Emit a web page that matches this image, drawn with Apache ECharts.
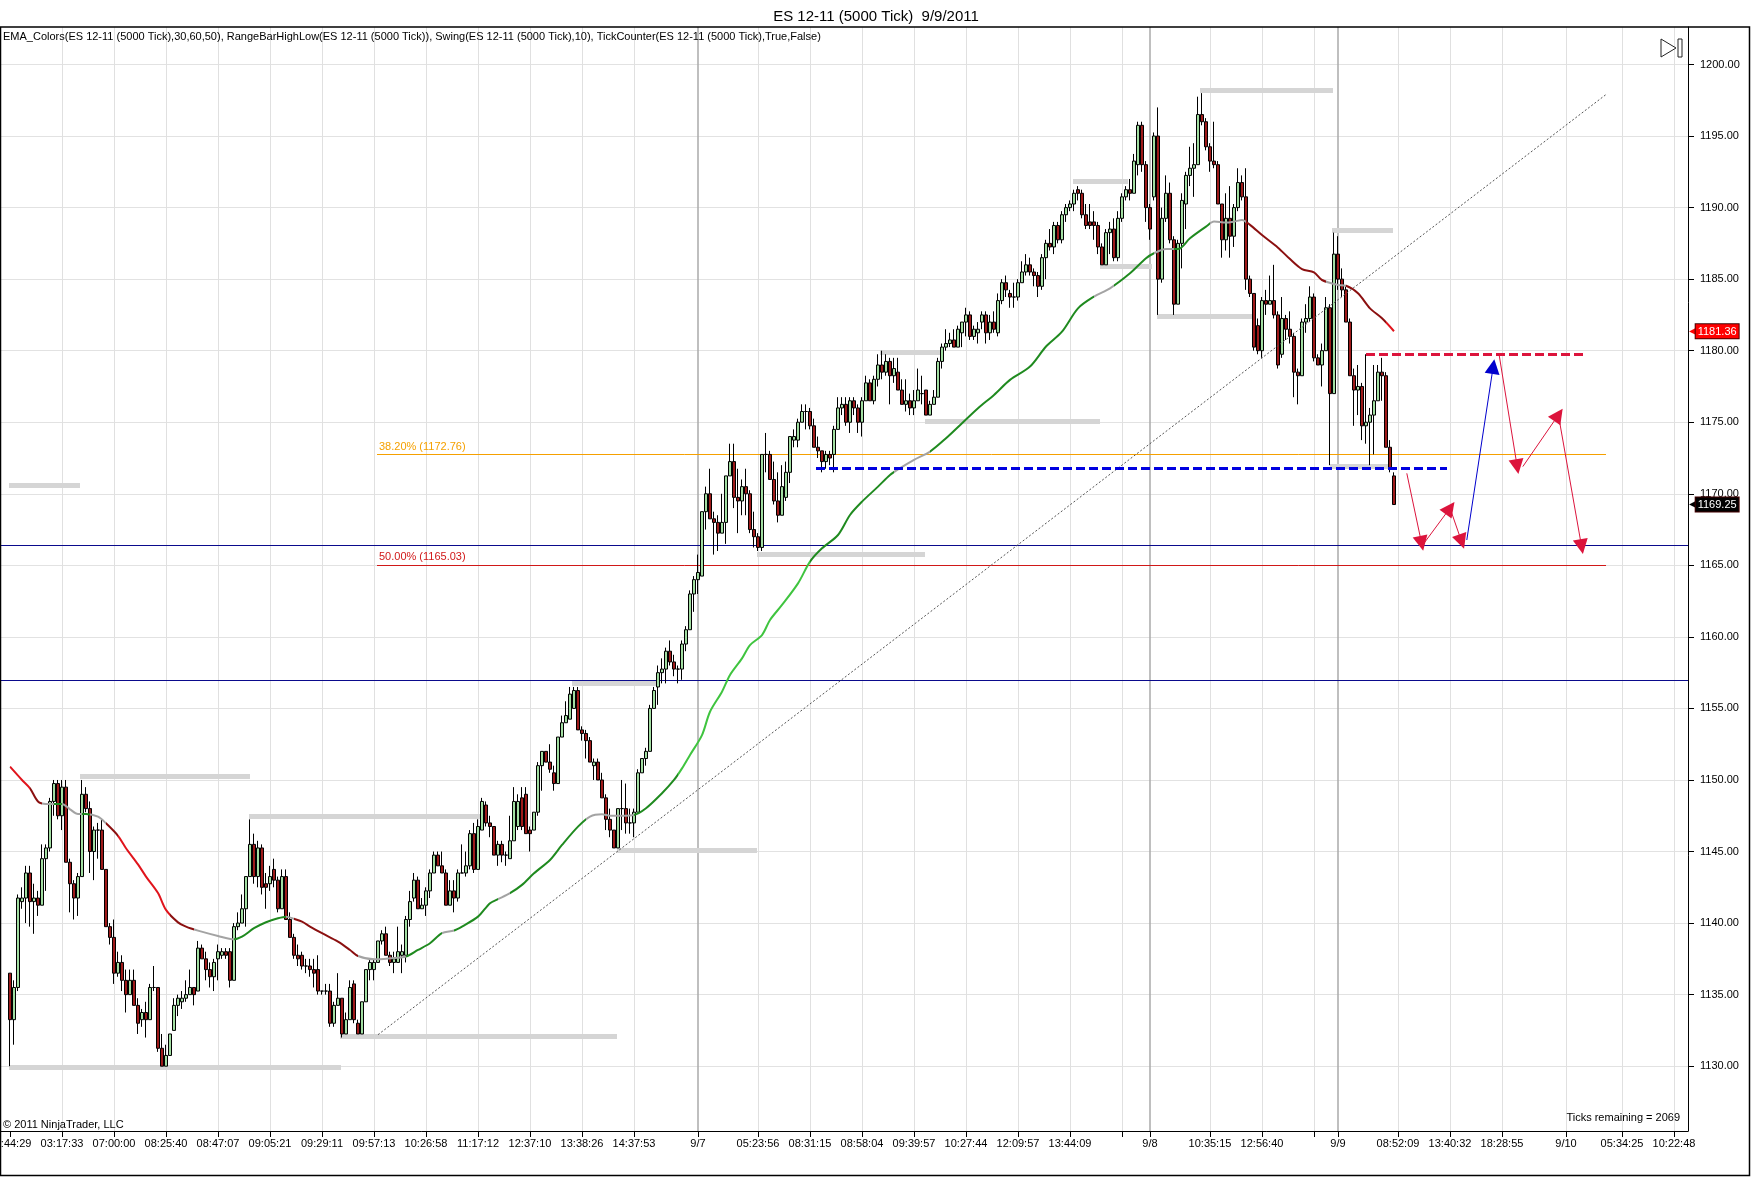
<!DOCTYPE html>
<html>
<head>
<meta charset="utf-8">
<title>ES 12-11 (5000 Tick) 9/9/2011</title>
<script src="https://cdn.jsdelivr.net/npm/echarts@6/dist/echarts.min.js"></script>
<style>
  html, body { margin: 0; padding: 0; background: #fff; }
  #chart { width: 1752px; height: 1177px; }
</style>
</head>
<body>
<div id="chart"></div>
<script>
var FONT = '"Liberation Sans", Arial, sans-serif';

// 5000 tick bars, numbered 1..347 from the left edge of the chart
var openPx = [
  1136.5, 1133.25, 1135.5, 1141.5, 1141.75, 1143.5, 1141.5, 1141.75, 1141.25, 1144.5,
  1145.25, 1148.5, 1149.75, 1147.5, 1149.5, 1144.25, 1142.75, 1141.75, 1143.25, 1149.0,
  1148.0, 1145.0, 1146.5, 1146.5, 1143.75, 1139.75, 1139.0, 1136.5, 1137.25, 1136.0,
  1135.0, 1136.0, 1134.25, 1133.25, 1133.75, 1133.25, 1135.5, 1135.5, 1131.25, 1130.0,
  1130.75, 1132.5, 1134.25, 1134.5, 1134.75, 1135.0, 1135.5, 1135.25, 1138.25, 1137.5,
  1136.75, 1136.25, 1137.5, 1137.75, 1138.0, 1138.0, 1136.0, 1139.75, 1140.0, 1141.0,
  1143.25, 1145.5, 1143.25, 1145.25, 1142.75, 1142.75, 1143.75, 1143.0, 1141.0, 1143.25,
  1140.25, 1139.0, 1137.75, 1137.75, 1137.0, 1137.0, 1136.75, 1136.75, 1135.25, 1135.25,
  1135.25, 1133.0, 1134.25, 1134.75, 1132.25, 1133.25, 1135.75, 1133.0, 1132.25, 1134.5,
  1136.75, 1136.75, 1137.25, 1138.75, 1139.25, 1137.75, 1137.25, 1137.25, 1137.75, 1137.75,
  1140.25, 1141.75, 1143.0, 1141.0, 1141.25, 1142.25, 1143.5, 1144.75, 1144.0, 1143.5,
  1141.25, 1142.25, 1141.75, 1143.5, 1143.5, 1144.0, 1146.25, 1143.75, 1146.5, 1148.25,
  1147.0, 1146.75, 1144.75, 1145.5, 1144.75, 1144.5, 1145.75, 1146.75, 1148.75, 1149.0,
  1146.5, 1146.5, 1147.75, 1151.0, 1152.0, 1151.25, 1150.5, 1149.75, 1153.0, 1154.0,
  1154.25, 1155.0, 1156.25, 1153.5, 1153.25, 1152.75, 1151.0, 1151.25, 1150.0, 1148.75,
  1147.25, 1146.5, 1145.25, 1148.0, 1148.0, 1147.0, 1147.0, 1147.75, 1150.5, 1151.5,
  1152.0, 1155.0, 1156.5, 1157.5, 1157.75, 1159.0, 1158.25, 1157.75, 1157.75, 1159.5,
  1160.5, 1163.0, 1164.0, 1164.25, 1168.75, 1170.0, 1168.25, 1168.0, 1167.25, 1168.0,
  1171.25, 1172.25, 1169.75, 1169.5, 1170.5, 1170.0, 1167.5, 1167.0, 1166.25, 1172.75,
  1172.75, 1171.0, 1169.5, 1168.5, 1169.75, 1171.5, 1173.75, 1173.75, 1175.0, 1175.75,
  1175.75, 1174.75, 1173.25, 1173.0, 1172.25, 1172.75, 1172.75, 1174.5, 1176.0, 1176.25,
  1175.0, 1176.5, 1176.0, 1175.0, 1176.5, 1177.75, 1176.5, 1178.0, 1179.0, 1178.5,
  1179.25, 1178.25, 1178.5, 1177.25, 1176.25, 1176.5, 1176.0, 1176.5, 1177.0, 1177.25,
  1175.5, 1176.25, 1176.75, 1179.25, 1180.25, 1180.5, 1180.75, 1180.25, 1181.25, 1182.0,
  1182.5, 1181.0, 1181.25, 1182.0, 1182.5, 1181.25, 1182.0, 1181.25, 1183.5, 1184.75,
  1184.0, 1183.75, 1183.75, 1184.75, 1185.5, 1186.0, 1185.5, 1185.25, 1184.5, 1186.5,
  1187.5, 1187.25, 1188.75, 1187.75, 1189.5, 1190.0, 1190.25, 1191.25, 1191.0, 1189.5,
  1189.0, 1189.0, 1188.75, 1187.25, 1186.0, 1188.25, 1188.5, 1186.5, 1189.25, 1190.75,
  1191.25, 1191.0, 1193.0, 1195.75, 1193.0, 1190.0, 1190.75, 1195.0, 1185.0, 1189.25,
  1191.0, 1187.75, 1183.25, 1187.5, 1190.25, 1192.25, 1192.75, 1193.0, 1196.5, 1196.0,
  1194.25, 1193.25, 1193.0, 1190.25, 1187.75, 1189.25, 1188.0, 1190.0, 1191.75, 1190.75,
  1185.0, 1184.0, 1181.75, 1180.0, 1183.5, 1183.25, 1183.5, 1182.5, 1179.75, 1182.25,
  1181.5, 1181.0, 1178.5, 1178.25, 1182.0, 1182.25, 1183.75, 1179.5, 1179.0, 1180.0,
  1183.0, 1177.0, 1186.75, 1185.0, 1184.25, 1182.0, 1178.25, 1177.25, 1177.5, 1174.75,
  1175.0, 1175.5, 1176.5, 1178.5, 1178.25, 1173.25, 1171.25
];
var closePx = [
  1133.25, 1135.5, 1141.75, 1141.75, 1143.5, 1141.5, 1141.75, 1141.25, 1144.5, 1145.25,
  1148.5, 1149.75, 1147.5, 1149.5, 1144.25, 1142.75, 1141.75, 1143.25, 1149.0, 1148.0,
  1145.0, 1146.5, 1146.5, 1143.75, 1139.75, 1139.0, 1136.5, 1137.25, 1136.0, 1135.0,
  1136.0, 1134.25, 1133.0, 1133.75, 1133.25, 1135.5, 1135.5, 1131.25, 1130.0, 1130.75,
  1132.25, 1134.25, 1134.75, 1134.75, 1135.0, 1135.5, 1135.0, 1138.25, 1137.5, 1136.75,
  1136.25, 1137.25, 1138.0, 1138.0, 1137.75, 1136.0, 1139.75, 1140.0, 1141.0, 1143.25,
  1145.5, 1143.25, 1145.25, 1142.5, 1142.5, 1143.25, 1143.0, 1141.0, 1143.25, 1140.25,
  1139.0, 1137.75, 1137.5, 1137.0, 1137.0, 1136.75, 1136.5, 1135.25, 1135.25, 1135.25,
  1133.0, 1134.25, 1134.75, 1132.25, 1133.25, 1135.5, 1133.25, 1132.25, 1134.5, 1136.75,
  1137.25, 1137.25, 1138.75, 1139.25, 1137.75, 1137.25, 1137.5, 1138.0, 1138.0, 1140.25,
  1141.5, 1143.0, 1141.0, 1141.25, 1142.25, 1143.5, 1144.75, 1144.0, 1143.5, 1141.25,
  1142.25, 1141.75, 1143.5, 1143.5, 1144.0, 1146.25, 1143.75, 1146.75, 1148.5, 1147.0,
  1146.75, 1144.75, 1145.5, 1144.75, 1144.75, 1145.75, 1148.5, 1148.5, 1146.75, 1146.25,
  1146.25, 1147.75, 1151.0, 1152.0, 1151.25, 1150.75, 1149.75, 1153.0, 1154.0, 1154.5,
  1156.0, 1156.25, 1153.5, 1153.25, 1152.75, 1151.25, 1151.25, 1150.0, 1148.75, 1147.25,
  1146.5, 1145.25, 1148.0, 1148.0, 1147.0, 1147.0, 1147.75, 1150.5, 1151.5, 1152.0,
  1155.0, 1156.25, 1157.5, 1157.75, 1159.0, 1158.25, 1157.75, 1157.75, 1159.5, 1160.5,
  1163.0, 1164.0, 1164.5, 1168.75, 1170.0, 1168.25, 1168.0, 1167.25, 1168.0, 1171.25,
  1172.25, 1169.75, 1169.5, 1170.5, 1170.0, 1167.5, 1167.0, 1166.25, 1172.75, 1172.75,
  1171.0, 1169.5, 1168.5, 1170.5, 1171.5, 1174.0, 1174.0, 1175.0, 1175.75, 1175.75,
  1174.75, 1173.25, 1173.0, 1172.25, 1172.75, 1172.5, 1174.5, 1176.0, 1176.25, 1175.0,
  1176.5, 1176.0, 1175.0, 1176.5, 1177.75, 1176.5, 1178.0, 1179.0, 1178.5, 1179.25,
  1178.25, 1178.75, 1177.25, 1176.25, 1176.5, 1176.0, 1176.5, 1177.25, 1177.0, 1175.5,
  1176.25, 1176.75, 1179.25, 1180.25, 1180.5, 1180.75, 1180.25, 1181.5, 1182.0, 1182.5,
  1181.0, 1181.5, 1181.5, 1182.5, 1181.25, 1182.0, 1181.5, 1183.5, 1184.75, 1184.25,
  1183.75, 1183.75, 1184.75, 1185.5, 1186.0, 1185.5, 1185.25, 1184.5, 1186.5, 1187.5,
  1187.25, 1188.75, 1187.75, 1189.5, 1190.0, 1190.25, 1191.0, 1191.0, 1189.5, 1188.75,
  1188.75, 1188.75, 1187.25, 1186.0, 1188.25, 1188.5, 1186.5, 1189.25, 1190.75, 1191.25,
  1191.0, 1193.25, 1195.75, 1193.0, 1190.0, 1188.5, 1195.0, 1185.0, 1189.25, 1191.0,
  1187.75, 1183.25, 1187.5, 1190.5, 1192.25, 1192.75, 1193.0, 1196.5, 1196.0, 1194.25,
  1193.25, 1193.0, 1190.25, 1187.75, 1189.25, 1188.0, 1190.0, 1191.75, 1190.75, 1185.0,
  1184.0, 1180.25, 1180.0, 1183.5, 1183.25, 1183.5, 1182.5, 1179.0, 1182.25, 1181.5,
  1181.0, 1178.5, 1178.25, 1182.0, 1182.25, 1183.75, 1179.5, 1179.0, 1180.0, 1183.0,
  1177.0, 1186.75, 1185.0, 1184.25, 1182.0, 1178.25, 1177.25, 1177.5, 1174.75, 1175.0,
  1175.5, 1176.5, 1178.5, 1178.25, 1173.25, 1171.75, 1169.25
];
var lowPx = [
  1130.0, 1131.5, 1135.25, 1141.0, 1140.0, 1139.75, 1139.25, 1140.5, 1141.25, 1142.25,
  1145.0, 1147.5, 1147.25, 1146.5, 1144.25, 1140.75, 1140.25, 1140.5, 1143.25, 1147.75,
  1143.5, 1143.0, 1144.5, 1143.75, 1139.75, 1138.5, 1135.75, 1136.25, 1135.25, 1133.75,
  1135.0, 1134.25, 1132.25, 1132.75, 1132.0, 1133.25, 1135.25, 1131.0, 1130.0, 1130.0,
  1130.75, 1132.5, 1133.5, 1134.0, 1134.5, 1135.0, 1134.25, 1135.25, 1137.5, 1136.0,
  1135.5, 1135.25, 1136.0, 1137.5, 1137.5, 1135.5, 1136.0, 1139.5, 1140.0, 1139.75,
  1143.25, 1142.75, 1142.5, 1142.0, 1141.0, 1142.25, 1142.5, 1140.75, 1141.0, 1140.25,
  1139.0, 1137.5, 1137.0, 1136.75, 1136.5, 1136.25, 1135.5, 1135.0, 1135.0, 1135.0,
  1132.75, 1132.75, 1134.25, 1132.0, 1132.25, 1133.25, 1133.0, 1132.25, 1132.25, 1134.5,
  1136.0, 1136.0, 1137.25, 1138.5, 1137.75, 1137.0, 1136.5, 1137.25, 1136.5, 1137.25,
  1139.75, 1141.5, 1141.0, 1141.0, 1140.5, 1141.75, 1143.5, 1144.0, 1143.5, 1141.25,
  1141.25, 1140.75, 1141.5, 1143.5, 1143.25, 1143.75, 1143.5, 1143.75, 1146.5, 1146.75,
  1146.0, 1144.75, 1144.0, 1144.25, 1144.0, 1144.5, 1145.75, 1146.5, 1146.5, 1146.25,
  1145.0, 1146.5, 1147.5, 1149.25, 1151.25, 1150.5, 1149.25, 1149.75, 1153.0, 1154.0,
  1154.25, 1155.0, 1153.5, 1152.75, 1151.5, 1151.25, 1150.0, 1150.0, 1148.75, 1146.5,
  1146.0, 1145.25, 1145.25, 1146.5, 1146.25, 1146.25, 1146.0, 1147.75, 1150.5, 1151.0,
  1152.0, 1155.0, 1155.25, 1156.75, 1156.75, 1158.0, 1157.25, 1156.75, 1157.0, 1159.0,
  1160.5, 1161.75, 1163.0, 1164.25, 1167.5, 1168.25, 1165.75, 1166.0, 1167.25, 1166.5,
  1171.25, 1169.0, 1167.25, 1168.5, 1168.5, 1167.25, 1166.25, 1166.0, 1166.0, 1171.5,
  1171.0, 1169.25, 1168.0, 1168.5, 1169.5, 1170.75, 1173.25, 1173.25, 1175.0, 1174.5,
  1174.5, 1173.25, 1172.5, 1171.5, 1171.75, 1172.0, 1171.5, 1174.5, 1175.5, 1174.75,
  1174.25, 1175.5, 1174.25, 1174.0, 1176.5, 1176.5, 1176.25, 1177.5, 1178.0, 1178.25,
  1176.25, 1177.75, 1177.25, 1176.25, 1175.75, 1175.5, 1175.5, 1176.5, 1176.25, 1175.5,
  1175.5, 1176.25, 1176.75, 1178.75, 1180.0, 1180.25, 1180.25, 1180.25, 1180.25, 1181.0,
  1180.75, 1180.75, 1180.5, 1181.5, 1180.5, 1180.75, 1181.25, 1181.0, 1183.25, 1183.75,
  1183.0, 1183.0, 1183.5, 1184.75, 1185.25, 1185.25, 1184.5, 1183.75, 1184.25, 1185.0,
  1187.0, 1186.75, 1187.5, 1187.5, 1189.0, 1189.75, 1189.75, 1190.5, 1189.25, 1188.5,
  1188.5, 1187.75, 1186.75, 1186.0, 1186.0, 1186.75, 1186.25, 1186.25, 1189.0, 1190.5,
  1190.5, 1191.0, 1192.25, 1192.5, 1189.0, 1187.75, 1190.5, 1182.5, 1184.75, 1189.0,
  1187.5, 1182.5, 1183.25, 1185.75, 1188.5, 1191.5, 1190.75, 1193.0, 1195.75, 1194.0,
  1192.5, 1192.75, 1190.25, 1186.5, 1187.0, 1186.5, 1187.25, 1189.75, 1190.5, 1184.25,
  1183.75, 1180.0, 1179.75, 1179.5, 1182.5, 1183.25, 1182.25, 1178.75, 1179.5, 1180.75,
  1180.5, 1176.75, 1176.25, 1178.25, 1181.25, 1182.0, 1179.25, 1179.0, 1177.5, 1180.0,
  1172.0, 1177.0, 1184.25, 1183.75, 1182.0, 1178.25, 1174.75, 1175.5, 1173.75, 1173.5,
  1172.0, 1172.75, 1176.5, 1176.5, 1173.25, 1171.5, 1169.25
];
var highPx = [
  1136.5, 1136.0, 1142.0, 1142.5, 1144.0, 1144.0, 1142.75, 1142.25, 1145.5, 1145.5,
  1148.75, 1150.0, 1150.0, 1150.0, 1150.0, 1144.5, 1143.0, 1143.5, 1150.0, 1149.5,
  1148.5, 1146.75, 1147.0, 1147.25, 1143.75, 1140.0, 1140.25, 1138.0, 1137.75, 1136.75,
  1136.75, 1136.75, 1134.75, 1134.0, 1134.5, 1135.75, 1137.0, 1135.5, 1132.25, 1131.5,
  1132.25, 1134.75, 1135.0, 1135.25, 1136.0, 1136.75, 1135.5, 1138.75, 1138.5, 1138.0,
  1137.25, 1137.5, 1138.5, 1138.25, 1138.25, 1138.25, 1140.0, 1140.75, 1142.0, 1143.25,
  1147.25, 1146.25, 1145.75, 1145.5, 1143.5, 1144.0, 1144.5, 1143.25, 1143.75, 1143.75,
  1140.75, 1139.25, 1138.5, 1138.0, 1137.5, 1137.5, 1137.5, 1137.75, 1135.25, 1135.75,
  1135.75, 1134.5, 1136.5, 1134.75, 1133.75, 1136.0, 1136.0, 1133.25, 1134.5, 1136.75,
  1137.5, 1137.5, 1138.75, 1139.5, 1139.75, 1138.0, 1138.0, 1139.75, 1138.5, 1140.5,
  1142.25, 1143.5, 1143.25, 1141.75, 1142.5, 1143.75, 1145.0, 1145.0, 1145.0, 1143.75,
  1143.0, 1143.0, 1143.75, 1145.5, 1145.0, 1146.5, 1147.0, 1147.25, 1148.75, 1148.5,
  1147.5, 1146.75, 1145.75, 1145.75, 1145.0, 1147.5, 1149.5, 1149.0, 1149.5, 1149.5,
  1146.75, 1147.75, 1151.25, 1152.0, 1152.0, 1152.5, 1151.0, 1153.0, 1154.5, 1155.5,
  1156.5, 1156.5, 1156.5, 1153.75, 1153.5, 1153.0, 1151.5, 1151.5, 1150.5, 1149.0,
  1148.0, 1146.5, 1148.0, 1150.0, 1149.75, 1148.0, 1148.0, 1150.75, 1151.5, 1152.25,
  1155.25, 1156.5, 1158.0, 1158.5, 1159.25, 1159.75, 1158.75, 1158.0, 1159.75, 1160.75,
  1163.25, 1164.25, 1165.75, 1168.75, 1170.5, 1171.75, 1168.75, 1168.5, 1170.0, 1171.25,
  1173.5, 1173.5, 1171.75, 1171.0, 1171.75, 1170.25, 1168.75, 1167.25, 1172.75, 1174.25,
  1173.0, 1172.25, 1171.5, 1172.0, 1172.25, 1174.0, 1174.5, 1175.25, 1176.25, 1176.25,
  1176.0, 1175.25, 1174.0, 1173.0, 1173.0, 1173.0, 1174.75, 1176.75, 1176.75, 1176.75,
  1176.75, 1176.75, 1176.25, 1176.75, 1178.25, 1178.0, 1178.25, 1179.75, 1180.0, 1179.75,
  1179.5, 1179.5, 1179.5, 1178.0, 1178.0, 1177.0, 1177.25, 1178.75, 1178.25, 1177.25,
  1176.5, 1177.25, 1179.5, 1180.5, 1181.5, 1181.25, 1181.5, 1181.75, 1182.0, 1183.0,
  1182.75, 1181.75, 1182.0, 1182.75, 1182.75, 1182.5, 1182.75, 1184.0, 1185.0, 1185.25,
  1184.25, 1184.75, 1185.0, 1186.25, 1186.75, 1186.5, 1185.75, 1185.5, 1186.75, 1187.75,
  1188.5, 1189.0, 1189.0, 1189.75, 1190.25, 1190.5, 1191.25, 1191.5, 1191.25, 1190.25,
  1190.25, 1189.75, 1189.0, 1187.5, 1188.5, 1189.0, 1189.25, 1189.75, 1191.0, 1191.5,
  1192.0, 1193.75, 1196.0, 1196.0, 1193.25, 1190.25, 1195.25, 1197.0, 1190.0, 1192.25,
  1191.75, 1188.0, 1187.75, 1191.0, 1192.5, 1194.25, 1194.5, 1197.75, 1198.0, 1196.25,
  1194.5, 1196.0, 1193.25, 1190.25, 1191.0, 1191.5, 1190.25, 1192.75, 1192.25, 1192.75,
  1185.25, 1184.0, 1182.25, 1183.75, 1184.25, 1185.25, 1186.0, 1182.75, 1183.75, 1182.5,
  1182.75, 1181.25, 1178.75, 1182.25, 1183.25, 1184.5, 1184.0, 1179.75, 1180.5, 1183.75,
  1183.25, 1188.25, 1188.0, 1185.75, 1184.5, 1182.25, 1178.75, 1179.0, 1177.75, 1179.75,
  1176.0, 1179.0, 1179.0, 1179.5, 1178.5, 1173.75, 1171.5
];

// EMA_Colors line at these bars
var emaBar = [1, 4, 6, 8, 10, 12, 14, 16, 18, 20, 23, 25, 28, 30, 33, 35, 38, 40, 43, 45,
  48, 53, 57, 59, 62, 65, 68, 70, 72, 74, 76, 79, 83, 86, 88, 92, 96, 100, 103, 106,
  109, 112, 114, 118, 121, 123, 126, 129, 132, 136, 139, 143, 146, 149, 151, 154, 157, 160, 164, 167,
  169, 171, 174, 176, 179, 181, 184, 186, 189, 191, 194, 198, 201, 204, 208, 211, 214, 218, 221, 223,
  227, 231, 235, 239, 243, 247, 251, 256, 260, 264, 268, 272, 276, 281, 285, 287, 290, 293, 296, 300,
  302, 305, 307, 309, 311, 314, 318, 321, 324, 327, 329, 333, 335, 338, 341, 344, 347];
var emaVal = [1150.93, 1150.0, 1149.42, 1148.5, 1148.33, 1148.33, 1148.33, 1147.95, 1147.63, 1147.63,
  1147.44, 1146.97, 1146.1, 1145.23, 1144.1, 1143.25, 1142.1, 1140.92, 1140.05, 1139.75,
  1139.47, 1139.1, 1138.87, 1139.05, 1139.64, 1140.06, 1140.34, 1140.45, 1140.3, 1140.1,
  1139.76, 1139.29, 1138.7, 1138.12, 1137.7, 1137.47, 1137.54, 1137.66, 1138.12, 1138.59,
  1139.29, 1139.48, 1139.76, 1140.45, 1141.39, 1141.67, 1142.09, 1142.67, 1143.48, 1144.41,
  1145.46, 1146.74, 1147.44, 1147.6, 1147.5, 1147.5, 1147.55, 1148.02, 1149.07, 1150.0,
  1150.81, 1151.75, 1153.14, 1154.77, 1156.17, 1157.34, 1158.5, 1159.43, 1160.13, 1161.18,
  1162.23, 1163.74, 1165.26, 1166.19, 1167.12, 1168.52, 1169.45, 1170.5, 1171.31, 1171.7,
  1172.37, 1172.95, 1173.88, 1174.93, 1175.98, 1176.91, 1177.96, 1178.89, 1180.29, 1181.33,
  1182.96, 1183.78, 1184.36, 1185.41, 1186.46, 1186.81, 1187.1, 1187.1, 1187.86, 1188.67,
  1189.02, 1188.95, 1189.02, 1189.14, 1188.79, 1188.08, 1187.2, 1186.4, 1185.7, 1185.48,
  1184.94, 1184.59, 1184.54, 1184.01, 1182.96, 1182.26, 1181.36];

// slope state of the EMA, each state runs from its start bar to the next one
var emaTrendStart = [1, 6, 9, 12, 14, 19, 21, 25, 28, 41, 47, 57, 70, 72, 88, 100, 109, 112, 123, 126,
  145, 157, 168, 201, 222, 231, 272, 277, 287, 292, 301, 310, 330, 335, 345];
var emaTrendState = ['steepDown', 'down', 'flat', 'up', 'flat', 'up', 'flat', 'down', 'steepDown', 'down',
  'flat', 'up', 'flat', 'down', 'flat', 'up', 'flat', 'up', 'flat', 'up',
  'flat', 'up', 'steepUp', 'up', 'flat', 'up', 'flat', 'up', 'flat', 'up',
  'flat', 'down', 'flat', 'down', 'steepDown'];

// Swing / RangeBarHighLow levels (start bar, end bar, price)
var swingFrom = [0.75, 18.5, 60.75, 0.75, 83.5, 141.5, 152.75, 187.75, 218.5, 229.75, 266.75, 273.5, 287.75, 298.5, 331, 331.5];
var swingTo = [18.5, 61, 119, 83.75, 152.75, 162.75, 187.75, 229.75, 234, 273.5, 280.5, 286.5, 311.75, 331.75, 345.5, 346.75];
var swingLevel = [1170.6, 1150.25, 1147.5, 1129.9, 1132.1, 1156.75, 1145.1, 1165.8, 1179.87, 1175.1, 1191.86, 1185.88, 1182.38, 1198.17, 1171.9, 1188.39];

// drawn objects
var supportLevel = [1166.42, 1156.95];
var fibName = ['38.20%', '50.00%'];
var fibLevel = [1172.76, 1165.03];
var fibBars = [92.75, 400];
var trendFrom = [93, 1132.2];
var trendTo = [400, 1197.9];
var blueDashLevel = 1171.8;
var blueDashBars = [202.5, 360.25];
var redDashLevel = 1179.75;
var redDashBars = [340, 395.25];
var arrowFrom = [[350.2, 1171.43], [354.2, 1166.43], [361, 1169.0], [365.2, 1166.77], [373.25, 1179.77], [379.2, 1171.9], [388.1, 1175.51]];
var arrowTo = [[353.9, 1166.54], [361, 1169.0], [363.9, 1166.66], [371.8, 1178.89], [377.8, 1171.9], [388.1, 1175.51], [393.9, 1166.31]];
var arrowKind = ['alt', 'alt', 'alt', 'main', 'alt', 'alt', 'alt'];

// axis labels
var labelBar = [1, 14, 27, 40, 53, 66, 79, 92, 105, 118, 131, 144, 157, 173, 188, 201, 214, 227, 240, 253,
  266, 286, 301, 314, 333, 348, 361, 374, 390, 404, 417];
var labelText = ['02:44:29', '03:17:33', '07:00:00', '08:25:40', '08:47:07', '09:05:21', '09:29:11', '09:57:13', '10:26:58', '11:17:12',
  '12:37:10', '13:38:26', '14:37:53', '9/7', '05:23:56', '08:31:15', '08:58:04', '09:39:57', '10:27:44', '12:09:57',
  '13:44:09', '9/8', '10:35:15', '12:56:40', '9/9', '08:52:09', '13:40:32', '18:28:55', '9/10', '05:34:25', '10:22:48'];
var extraGridBar = [279, 327];
var sessionBar = [173, 286, 333];
var yTicks = [1130, 1135, 1140, 1145, 1150, 1155, 1160, 1165, 1170, 1175, 1180, 1185, 1190, 1195, 1200];

var indicatorText = 'EMA_Colors(ES 12-11 (5000 Tick),30,60,50), RangeBarHighLow(ES 12-11 (5000 Tick)), Swing(ES 12-11 (5000 Tick),10), TickCounter(ES 12-11 (5000 Tick),True,False)';

var trendColors = { steepDown: '#e0141c', down: '#8b1010', flat: '#a3a3a3', up: '#1f8a1f', steepUp: '#3fc43f' };

// ---- build series data ----
var candles = openPx.map(function (o, i) {
  return [i + 1, o, closePx[i], lowPx[i], highPx[i]];
});
var emaData = emaBar.map(function (b, i) { return [b, emaVal[i]]; });

var pieces = emaTrendStart.map(function (s, i) {
  var e = i + 1 < emaTrendStart.length ? emaTrendStart[i + 1] : 400;
  return { gte: s, lt: e, color: trendColors[emaTrendState[i]] };
});

var tickBar = labelBar.concat(extraGridBar).sort(function (a, b) { return a - b; });

// background lines (below candles)
var bgLines = [];
yTicks.forEach(function (v) {
  bgLines.push({ yAxis: v, lineStyle: { color: '#e2e2e2', width: 1, type: 'solid' } });
});
tickBar.forEach(function (n, i) {
  // the first tick sits on the first bar and has no grid line in the picture
  if (i > 0 && sessionBar.indexOf(n) < 0) {
    bgLines.push({ xAxis: n, lineStyle: { color: '#e0e0e0', width: 1, type: 'solid' } });
  }
});
sessionBar.forEach(function (n) {
  bgLines.push({ xAxis: n, lineStyle: { color: '#aaaaaa', width: 1.5, type: 'solid' } });
});
supportLevel.forEach(function (v) {
  bgLines.push({ yAxis: v, lineStyle: { color: '#0a0a8c', width: 1, type: 'solid' } });
});
var fibColors = ['#f5a000', '#d01818'];
fibLevel.forEach(function (v, i) {
  bgLines.push([
    { coord: [fibBars[0], v], lineStyle: { color: fibColors[i], width: 1, type: 'solid' },
      label: { show: true, position: 'insideStartTop', distance: 2, color: fibColors[i], fontSize: 11, fontFamily: FONT,
        formatter: fibName[i] + ' (' + v.toFixed(2) + ')' } },
    { coord: [fibBars[1], v] }
  ]);
});
swingFrom.forEach(function (f, i) {
  bgLines.push([
    { coord: [f, swingLevel[i]], lineStyle: { color: '#d5d5d5', width: 5, type: 'solid', cap: 'butt' } },
    { coord: [swingTo[i], swingLevel[i]] }
  ]);
});

// foreground drawings (above candles and EMA)
var fgLines = [];
fgLines.push([
  { coord: trendFrom, lineStyle: { color: '#555555', width: 1, type: [2, 2] } },
  { coord: trendTo }
]);
fgLines.push([
  { coord: [blueDashBars[0], blueDashLevel], lineStyle: { color: '#0000e0', width: 3, type: [9, 4] } },
  { coord: [blueDashBars[1], blueDashLevel] }
]);
fgLines.push([
  { coord: [redDashBars[0], redDashLevel], lineStyle: { color: '#dc143c', width: 3, type: [9, 4] } },
  { coord: [redDashBars[1], redDashLevel] }
]);
arrowFrom.forEach(function (p, i) {
  var c = arrowKind[i] === 'main' ? '#0000cd' : '#dc143c';
  fgLines.push([
    { coord: p, symbol: 'none', lineStyle: { color: c, width: 1, type: 'solid' } },
    { coord: arrowTo[i], symbol: 'triangle', symbolSize: 15 }
  ]);
});

// price markers on the axis
var lastEma = emaVal[emaVal.length - 1];
var lastClose = closePx[closePx.length - 1];
function priceTag(v, bg) {
  return {
    yAxis: v,
    lineStyle: { color: 'rgba(0,0,0,0)', width: 1 },
    label: {
      show: true, position: 'end', distance: 1, opacity: 1,
      formatter: function () { return '{p|\u25C0}{v|' + v.toFixed(2) + '}'; },
      rich: {
        p: { color: bg, fontSize: 10, fontFamily: 'DejaVu Sans', padding: [0, -1, 0, 0] },
        v: { color: '#fff', backgroundColor: bg, borderColor: '#400', borderWidth: 1,
          padding: [2, 2, 1, 2], fontSize: 11, fontFamily: FONT }
      }
    }
  };
}

var option = {
  animation: false,
  backgroundColor: '#fff',
  title: {
    text: 'ES 12-11 (5000 Tick)  9/9/2011',
    left: 'center', top: 4,
    textStyle: { fontSize: 15, fontWeight: 'normal', color: '#000', fontFamily: FONT }
  },
  grid: { left: 0, top: 27, width: 1688, height: 1104, containLabel: false, outerBoundsMode: 'none' },
  xAxis: {
    type: 'value', min: -1.5, max: 420.5,
    axisLine: { show: true, onZero: false, lineStyle: { color: '#000', width: 1 } },
    axisTick: { show: true, customValues: tickBar, length: 6, lineStyle: { color: '#000' } },
    axisLabel: {
      customValues: labelBar, color: '#000', fontSize: 11, fontFamily: FONT, margin: 7,
      formatter: function (v) { var k = labelBar.indexOf(v); return k < 0 ? '' : labelText[k]; }
    },
    splitLine: { show: false }
  },
  yAxis: {
    type: 'value', position: 'right', min: 1125.47, max: 1202.62,
    axisLine: { show: true, onZero: false, lineStyle: { color: '#000', width: 1 } },
    axisTick: { show: true, customValues: yTicks, length: 6, lineStyle: { color: '#000' } },
    axisLabel: {
      customValues: yTicks, color: '#000', fontSize: 11, fontFamily: FONT, margin: 12,
      formatter: function (v) { return v.toFixed(2); }
    },
    splitLine: { show: false }
  },
  visualMap: {
    type: 'piecewise', show: false, dimension: 0, seriesIndex: 2,
    pieces: pieces, outOfRange: { color: '#a3a3a3' }
  },
  series: [
    {
      type: 'line', data: [], silent: true,
      markLine: { z: 1, silent: true, animation: false, symbol: ['none', 'none'], label: { show: false },
        emphasis: { disabled: true }, data: bgLines }
    },
    {
      type: 'candlestick', data: candles, z: 2, barWidth: 3, silent: true,
      itemStyle: { color: '#a2dea2', color0: '#9e1a1a', borderColor: '#000', borderColor0: '#000', borderWidth: 1 }
    },
    {
      type: 'line', data: emaData, z: 3, showSymbol: false, smooth: 0.3, silent: true,
      lineStyle: { width: 2 }
    },
    {
      type: 'line', data: [], silent: true,
      markLine: { z: 5, silent: true, animation: false, symbol: ['none', 'none'], label: { show: false },
        emphasis: { disabled: true }, data: fgLines }
    },
    {
      type: 'line', data: [], silent: true,
      markLine: { z: 6, silent: true, animation: false, symbol: ['none', 'none'],
        emphasis: { disabled: true }, data: [priceTag(lastEma, '#ff0000'), priceTag(lastClose, '#000000')] }
    }
  ],
  graphic: [
    { type: 'rect', silent: true, z: 100, shape: { x: 0.5, y: 27, width: 1749, height: 1148.5 },
      style: { fill: 'transparent', stroke: '#000', lineWidth: 1.5 } },
    { type: 'text', silent: true, z: 100, x: 3, y: 36.5,
      style: { text: indicatorText, fill: '#000', font: '11px ' + FONT, verticalAlign: 'middle', textVerticalAlign: 'middle' } },
    { type: 'text', silent: true, z: 100, x: 3, y: 1125,
      style: { text: '\u00A9 2011 NinjaTrader, LLC', fill: '#000', font: '11px ' + FONT, verticalAlign: 'middle', textVerticalAlign: 'middle' } },
    { type: 'text', silent: true, z: 100, x: 1680, y: 1118,
      style: { text: 'Ticks remaining = 2069', fill: '#000', font: '11px ' + FONT, align: 'right', textAlign: 'right',
        verticalAlign: 'middle', textVerticalAlign: 'middle' } },
    { type: 'polygon', silent: true, z: 100, shape: { points: [[1661, 39], [1676, 48], [1661, 57]] },
      style: { fill: '#fff', stroke: '#222', lineWidth: 1 } },
    { type: 'rect', silent: true, z: 100, shape: { x: 1678, y: 39, width: 4, height: 18 },
      style: { fill: '#fff', stroke: '#222', lineWidth: 1 } }
  ]
};

var chart = echarts.init(document.getElementById('chart'));
chart.setOption(option);
</script>
</body>
</html>
